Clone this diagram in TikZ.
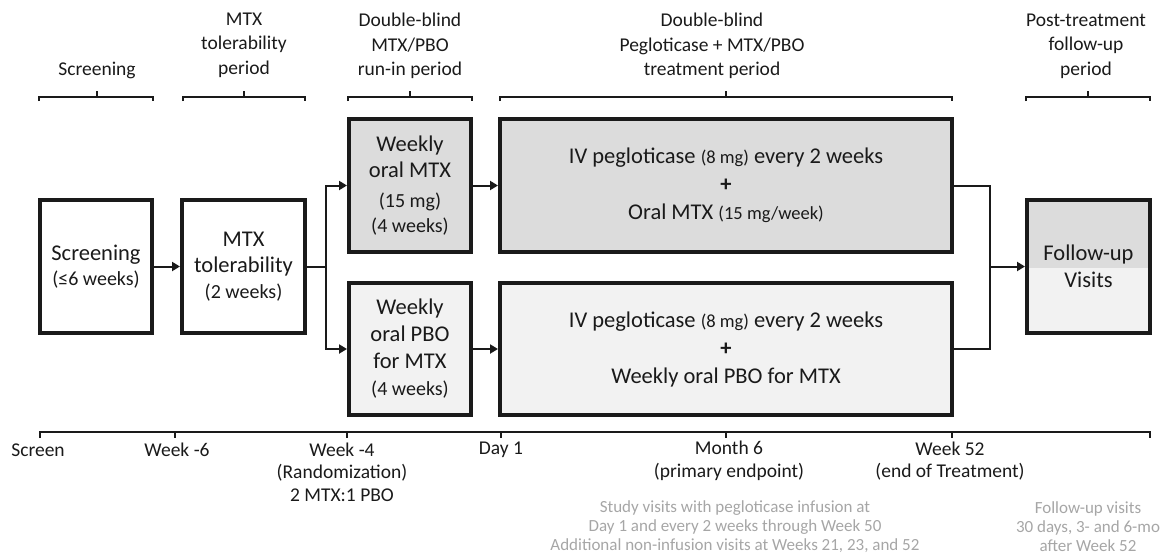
\documentclass[tikz,border=0pt]{standalone}
\usepackage{fontspec}
\setmainfont{Carlito}
\usetikzlibrary{arrows.meta}
\definecolor{darkfill}{HTML}{DCDCDC}
\definecolor{lightfill}{HTML}{F2F2F2}
\definecolor{graytext}{HTML}{A6A6A6}
\definecolor{ink}{HTML}{1A1A1A}
\newcommand{\parsz}[1]{{\fontsize{20}{27}\selectfont #1}}
\newcommand{\pgsz}[1]{{\fontsize{18.5}{27}\selectfont #1}}
\begin{document}
\begin{tikzpicture}[x=1pt,y=-1pt,
  box/.style={draw=ink, line width=4pt, align=center, inner sep=0pt,
    font=\fontsize{22.5}{27}\selectfont, text=ink},
  conn/.style={draw=ink, line width=2pt},
  arr/.style={conn, -{Triangle[length=8pt,width=9pt]}},
  brace/.style={draw=ink, line width=1.4pt},
  toplabel/.style={align=center, font=\fontsize{19.5}{24.5}\selectfont, inner sep=0pt, text=ink},
  axlabel/.style={align=center, font=\fontsize{19.5}{22.5}\selectfont, inner sep=0pt, text=ink},
  note/.style={align=center, font=\fontsize{17}{19}\selectfont, inner sep=0pt, text=graytext}]
\useasboundingbox (0,0) rectangle (1168,557);

% boxes
\node[box, minimum width=112pt, minimum height=133pt] (scr) at (96,266.5)
  {Screening\\[-2pt]\parsz{(≤6 weeks)}};
\node[box, minimum width=123pt, minimum height=133pt] (mtx) at (243.5,266.5)
  {MTX\\[-1pt]tolerability\\[-1pt]\parsz{(2 weeks)}};
\node[box, fill=darkfill, minimum width=122pt, minimum height=133pt] (ra) at (410,185.5)
  {Weekly\\[-1pt]oral MTX\\[3pt]\parsz{(15 mg)}\\[-2pt]\parsz{(4 weeks)}};
\node[box, fill=lightfill, minimum width=122pt, minimum height=132pt] (rb) at (410,349)
  {Weekly\\oral PBO\\for MTX\\\parsz{(4 weeks)}};
\node[box, fill=darkfill, minimum width=452pt, minimum height=133pt] (ta) at (726,185.5)
  {IV pegloticase \pgsz{(8 mg)} every 2 weeks\\[1pt]\textbf{+}\\[1pt]Oral MTX \pgsz{(15 mg/week)}};
\node[box, fill=lightfill, minimum width=452pt, minimum height=132pt] (tb) at (726,349)
  {IV pegloticase \pgsz{(8 mg)} every 2 weeks\\[1pt]\textbf{+}\\[1pt]Weekly oral PBO for MTX};
\node[box, fill=lightfill, minimum width=123pt, minimum height=133pt,
  path picture={\fill[darkfill] (path picture bounding box.north west) rectangle ([yshift=-1.5pt]path picture bounding box.east);}]
  (fu) at (1088.5,266.5) {Follow-up\\Visits};

% connectors
\coordinate (fork) at (326,266.5);
\coordinate (merge) at (990,266.5);
\draw[arr] (scr.east) -- (mtx.west);
\draw[conn] (mtx.east) -- (fork);
\draw[arr] (fork) |- (ra.west);
\draw[arr] (fork) |- (rb.west);
\draw[arr] (ra.east) -- (ta.west);
\draw[arr] (rb.east) -- (tb.west);
\draw[conn] (ta.east) -| (merge) |- (tb.east);
\draw[arr] (merge) -- (fu.west);

% brackets
\draw[brace] (39,101) -- (39,97) -- (153,97) -- (153,101) (97,97) -- (97,91);
\draw[brace] (183,101) -- (183,97) -- (305,97) -- (305,101) (244,97) -- (244,91);
\draw[brace] (348,101) -- (348,97) -- (472,97) -- (472,101) (410,97) -- (410,91);
\draw[brace] (500,101) -- (500,97) -- (952,97) -- (952,101) (726,97) -- (726,91);
\draw[brace] (1026,101) -- (1026,97) -- (1150,97) -- (1150,101) (1088,97) -- (1088,91);

% top labels
\node[toplabel] (l1) at (97,70) {Screening};
\node[toplabel] (l2) at (244,45) {MTX\\tolerability\\period};
\node[toplabel] (l3) at (410,46) {Double-blind\\MTX/PBO\\run-in period};
\node[toplabel] (l4) at (712,46) {Double-blind\\Pegloticase + MTX/PBO\\treatment period};
\node[toplabel] (l5) at (1086,46) {Post-treatment\\follow-up\\period};

% timeline
\draw[brace] (40,438) -- (40,432) -- (1150,432) -- (1150,438);
\foreach \x in {175,347,501,726,952} \draw[brace] (\x,432) -- (\x,438);

\node[axlabel] (t1) at (38,450) {Screen};
\node[axlabel] (t2) at (177,450) {Week -6};
\node[axlabel] (t3) at (342,472) {Week -4\\(Randomization)\\2 MTX:1 PBO};
\node[axlabel] (t4) at (501,450) {Day 1};
\node[axlabel] (t5) at (729,461) {Month 6\\(primary endpoint)};
\node[axlabel] (t6) at (950,461) {Week 52\\(end of Treatment)};

\node[note] (n1) at (735,527) {Study visits with pegloticase infusion at\\Day 1 and every 2 weeks through Week 50\\Additional non-infusion visits at Weeks 21, 23, and 52};
\node[note] (n2) at (1088,527) {Follow-up visits\\30 days, 3- and 6-mo\\after Week 52};
\end{tikzpicture}
\end{document}
